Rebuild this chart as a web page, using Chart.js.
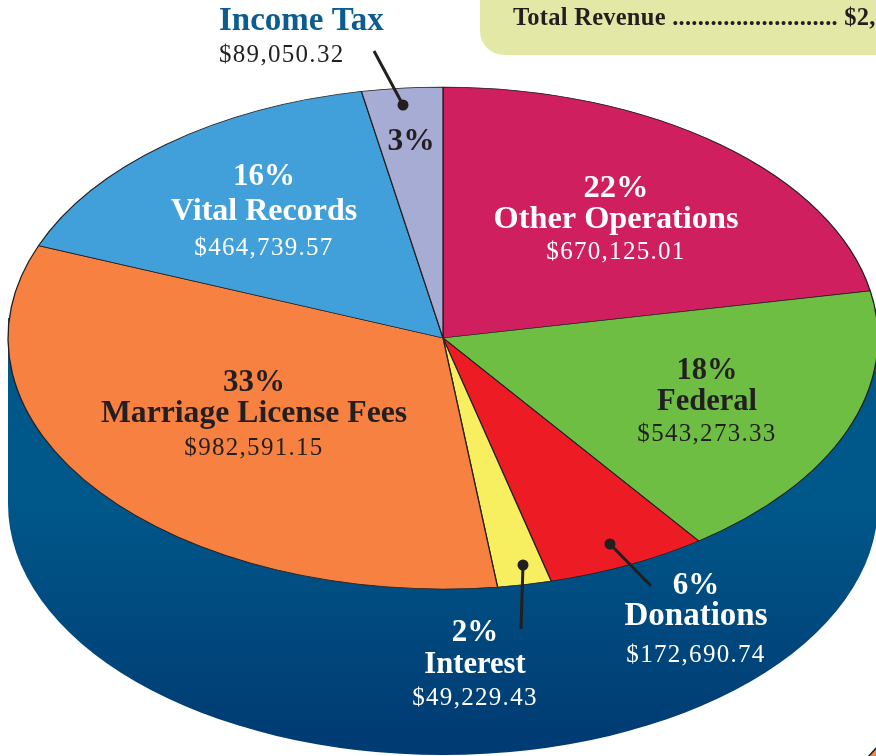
<!DOCTYPE html>
<html>
<head>
<meta charset="utf-8">
<style>
html,body{margin:0;padding:0;background:#fff;overflow:hidden}
canvas{display:block}
</style>
<script src="https://cdn.jsdelivr.net/npm/chart.js@4"></script>
</head>
<body>
<canvas id="c" width="876" height="756"></canvas>
<script>
const categories = ["Other Operations","Federal","Donations","Interest","Marriage License Fees","Vital Records","Income Tax"];
const percents = [22,18,6,2,33,16,3];
const amounts = ["$670,125.01","$543,273.33","$172,690.74","$49,229.43","$982,591.15","$464,739.57","$89,050.32"];
const totalLine = "Total Revenue .......................... $2,";

const sliceColors = ["#cf1f5e","#6fbe44","#ed1c24","#f7ef60","#f68140","#419fd9","#a7acd4"];
const EDGE = "#231f20", NAVY_LABEL = "#0b5c8f", WHITE = "#ffffff";
const SERIF = '"Liberation Serif", serif';

// layout of the printed labels: [x, baselinePct, baselineName, baselineAmount, colour, pctSize, nameSize]
const labelLayout = [
  [616,197,228,259,WHITE,32.5,32.3],
  [707,379,410,441,EDGE,30.5,30.5],
  [696,594,625,662,WHITE,31,33],
  [475,641,673,705,WHITE,31,30.6],
  [254,391,422,455,EDGE,31,31.7],
  [264,185,220,255,WHITE,31,32],
  null
];
const leaders = [[374,51,403,105],[521,629,523,565],[651,586,610,544]];
const squash = 0.577, depth = 166;

function txt(ctx,s,x,y,font,color,align,ls){
  ctx.font = font; ctx.fillStyle = color; ctx.textAlign = align||"center";
  ctx.textBaseline = "alphabetic"; ctx.letterSpacing = ls||"0px";
  ctx.fillText(s,x,y);
  ctx.letterSpacing = "0px";
}

const pieSkew = {
  id:"pieSkew",
  beforeDatasetsDraw(chart){
    const ctx = chart.ctx, a = chart.getDatasetMeta(0).data[0];
    const cx = a.x, cy = a.y, R = a.outerRadius, ry = R*squash;
    // rim of the disc
    const g = ctx.createLinearGradient(0,cy+depth-10,0,cy+depth+ry);
    g.addColorStop(0,"#00588a"); g.addColorStop(1,"#003a72");
    ctx.save();
    ctx.fillStyle = g;
    ctx.beginPath();
    ctx.moveTo(cx-R,cy-20);
    ctx.lineTo(cx+R,cy-20);
    ctx.lineTo(cx+R,cy+depth);
    ctx.ellipse(cx,cy+depth,R,ry,0,0,Math.PI);
    ctx.closePath();
    ctx.fill();
    // sliver of the next page element in the corner
    ctx.fillStyle = "#f68140"; ctx.strokeStyle = EDGE; ctx.lineWidth = 1.5;
    ctx.beginPath(); ctx.moveTo(868,757); ctx.lineTo(877,747); ctx.lineTo(877,757); ctx.closePath();
    ctx.fill(); ctx.stroke();
    ctx.restore();
    // squash the library's arcs into the perspective ellipse
    ctx.save();
    ctx.translate(0,cy); ctx.scale(1,squash); ctx.translate(0,-cy);
  },
  afterDatasetsDraw(chart){
    const ctx = chart.ctx;
    ctx.restore();
    // revenue box
    ctx.fillStyle = "#e3e8a6";
    ctx.beginPath();
    ctx.roundRect(480,-40,440,95,24);
    ctx.fill();
    txt(ctx,totalLine,513,25,'bold 24.5px '+SERIF,EDGE,"left","0.25px");
    // leaders
    ctx.strokeStyle = EDGE; ctx.fillStyle = EDGE; ctx.lineWidth = 3; ctx.lineCap="butt";
    leaders.forEach(l=>{
      ctx.beginPath(); ctx.moveTo(l[0],l[1]); ctx.lineTo(l[2],l[3]); ctx.stroke();
      ctx.beginPath(); ctx.arc(l[2],l[3],5.5,0,Math.PI*2); ctx.fill();
    });
    // slice labels
    categories.forEach((name,i)=>{
      const p = labelLayout[i];
      if(!p) return;
      txt(ctx,percents[i]+"%",p[0],p[1],'bold '+p[5]+'px '+SERIF,p[4]);
      txt(ctx,name,p[0],p[2],'bold '+p[6]+'px '+SERIF,p[4]);
      txt(ctx,amounts[i],p[0],p[3],'25px '+SERIF,p[4],"center","1.3px");
    });
    // Income Tax sits outside its slice
    txt(ctx,categories[6],219,30,'bold 33px '+SERIF,NAVY_LABEL,"left");
    txt(ctx,amounts[6],219,62,'25px '+SERIF,EDGE,"left","1.3px");
    txt(ctx,percents[6]+"%",411,150,'bold 31.5px '+SERIF,EDGE);
  }
};

new Chart(document.getElementById("c"),{
  type:"pie",
  data:{labels:categories,datasets:[{data:percents,backgroundColor:sliceColors,borderColor:EDGE,borderWidth:1.3,clip:false,radius:435}]},
  options:{
    responsive:false,animation:false,
    layout:{padding:{left:10,right:0,top:0,bottom:80}},
    plugins:{legend:{display:false},tooltip:{enabled:false},title:{display:false}}
  },
  plugins:[pieSkew]
});
</script>
</body>
</html>
